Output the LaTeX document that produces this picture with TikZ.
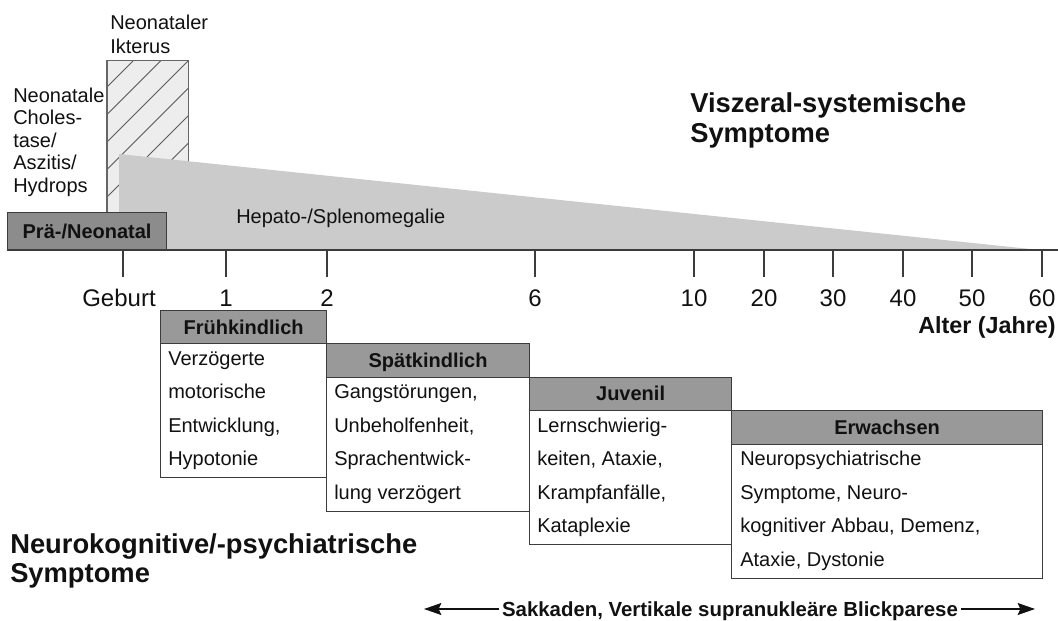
\documentclass[tikz,border=0pt]{standalone}
\usepackage{fontspec}
\setmainfont{Liberation Sans}
\usetikzlibrary{arrows.meta}
\definecolor{hdrc}{HTML}{999999}
\definecolor{prec}{HTML}{8C8C8C}
\definecolor{tric}{HTML}{CBCBCB}
\definecolor{hatchc}{HTML}{EDEDED}
\definecolor{bordc}{HTML}{3C3C3C}
\definecolor{txtc}{HTML}{111111}
\newcommand\myBodyFont{\fontsize{15}{18}\selectfont}
\newcommand\myHdrFont{\bfseries\fontsize{15}{18}\selectfont}
\newcommand\myTickFont{\fontsize{18}{21}\selectfont}
\newcommand\myBigFont{\bfseries\fontsize{20.5}{24}\selectfont}
\tikzset{
  hdrbox/.style={draw=bordc, fill=hdrc, line width=0.9pt, anchor=north west,
    minimum height=25.125pt, inner sep=0pt, text height=10.5pt, text depth=0pt,
    font=\myHdrFont, text=txtc},
  bodybox/.style={draw=bordc, fill=white, line width=0.9pt, anchor=north west,
    minimum height=100.5pt, inner sep=0pt},
  bodytxt/.style={anchor=base west, inner sep=0pt, font=\myBodyFont, text=txtc},
  prebox/.style={draw=bordc, fill=prec, line width=0.9pt, anchor=north west,
    inner sep=0pt, text height=10.5pt, text depth=0pt, font=\myHdrFont, text=txtc},
  hatchbox/.style={fill=hatchc, draw=none, inner sep=0pt},
  hatchline/.style={draw=black!65, line width=0.6pt},
  axisline/.style={draw=bordc, line width=0.9pt},
  ticklab/.style={anchor=base, inner sep=0pt, font=\myTickFont, text=txtc},
  plain/.style={anchor=base west, inner sep=0pt, font=\myBodyFont, text=txtc},
  bigtxt/.style={anchor=base west, inner sep=0pt, font=\myBigFont, text=txtc},
  arr/.style={draw=txtc, line width=0.8pt, -{Stealth[length=13pt,width=9pt,inset=2pt]}}
}
\begin{document}
\begin{tikzpicture}[x=0.75pt,y=-0.75pt]
\useasboundingbox (0,0) rectangle (1058,621);

% Neonataler Ikterus: hatched bar
\node[hatchbox, anchor=south west, minimum width=60.75pt, minimum height=141.75pt] (ikt) at (107,250) {};
\begin{scope}
  \clip (107,61) rectangle (188,250);
  \foreach \k in {-3,...,7} \draw[hatchline] (47,{147+27.5*\k}) -- ++(200,-200);
\end{scope}
\draw[draw=black!60, line width=0.8pt] (ikt.south west) rectangle (ikt.north east);

% Hepato-/Splenomegalie wedge
\fill[tric] (119,250) -- (119,154) -- (1040,250) -- cycle;
\node[plain] (hep) at (236,223) {Hepato-/Splenomegalie};

% Prae-/Neonatal box
\node[prebox, minimum width=119.25pt, minimum height=27.75pt] (pre) at (7,212) {Prä-/Neonatal};

% labels top left
\node[plain] (ik1) at (110,30) {Neonataler};
\node[plain] (ik2) at (110,53) {Ikterus};
\foreach \t [count=\i] in {Neonatale, Choles-, tase/, Aszitis/, Hydrops}
  \node[plain] (nc\i) at (13,{102+22.5*(\i-1)}) {\t};

% Viszeral-systemische Symptome
\node[bigtxt] (vs1) at (690,112) {Viszeral-systemische};
\node[bigtxt] (vs2) at (690,142) {Symptome};

% axis
\draw[axisline] (7,250) -- (1058,250);
\foreach \x/\lx/\l [count=\i] in {123/119/Geburt,226/226/1,327/327/2,535/535/6,694/694/10,764/764/20,833/833/30,903/903/40,972/972/50,1042/1042/60}{
  \draw[axisline] (\x,250) -- (\x,277);
  \node[ticklab] (t\i) at (\lx,306) {\l};
}
\node[anchor=base east, inner sep=0pt, font=\bfseries\fontsize{17.5}{21}\selectfont, text=txtc] (alter) at (1056,333) {Alter (Jahre)};

% Fruehkindlich
\node[hdrbox, minimum width=124.5pt] (fkh) at (160,310) {Frühkindlich};
\node[bodybox, minimum width=124.5pt] (fkb) at (160,343) {};
\foreach \t [count=\i] in {Verzögerte, motorische, {Entwicklung,}, Hypotonie}
  \node[bodytxt] (fk\i) at (168,{365+33.5*(\i-1)}) {\t};

% Spaetkindlich
\node[hdrbox, minimum width=152.25pt] (skh) at (326,343) {Spätkindlich};
\node[bodybox, minimum width=152.25pt] (skb) at (326,376.5) {};
\foreach \t [count=\i] in {{Gangstörungen,}, {Unbeholfenheit,}, Sprachentwick-, lung verzögert}
  \node[bodytxt] (sk\i) at (334,{398.5+33.5*(\i-1)}) {\t};

% Juvenil
\node[hdrbox, minimum width=151.5pt] (jvh) at (529,376.5) {Juvenil};
\node[bodybox, minimum width=151.5pt] (jvb) at (529,410) {};
\foreach \t [count=\i] in {Lernschwierig-, {keiten, Ataxie,}, {Krampfanfälle,}, Kataplexie}
  \node[bodytxt] (jv\i) at (537,{432+33.5*(\i-1)}) {\t};

% Erwachsen
\node[hdrbox, minimum width=233.25pt] (ewh) at (731,410) {Erwachsen};
\node[bodybox, minimum width=233.25pt] (ewb) at (731,443.5) {};
\foreach \t [count=\i] in {Neuropsychiatrische, {Symptome, Neuro-}, {kognitiver Abbau, Demenz,}, {Ataxie, Dystonie}}
  \node[bodytxt] (ew\i) at (740,{465.5+33.5*(\i-1)}) {\t};

% Neurokognitive
\node[bigtxt] (nk1) at (10,553) {Neurokognitive/-psychiatrische};
\node[bigtxt] (nk2) at (10,582) {Symptome};

% Sakkaden arrow
\node[anchor=base, inner sep=2pt, font=\bfseries\fontsize{15.3}{18}\selectfont, text=txtc] (sak) at (730,616) {Sakkaden, Vertikale supranukleäre Blickparese};
\coordinate (la) at (424,609);
\coordinate (ra) at (1035,609);
\draw[arr] (sak.west |- la) -- (la);
\draw[arr] (sak.east |- ra) -- (ra);
\end{tikzpicture}
\end{document}
